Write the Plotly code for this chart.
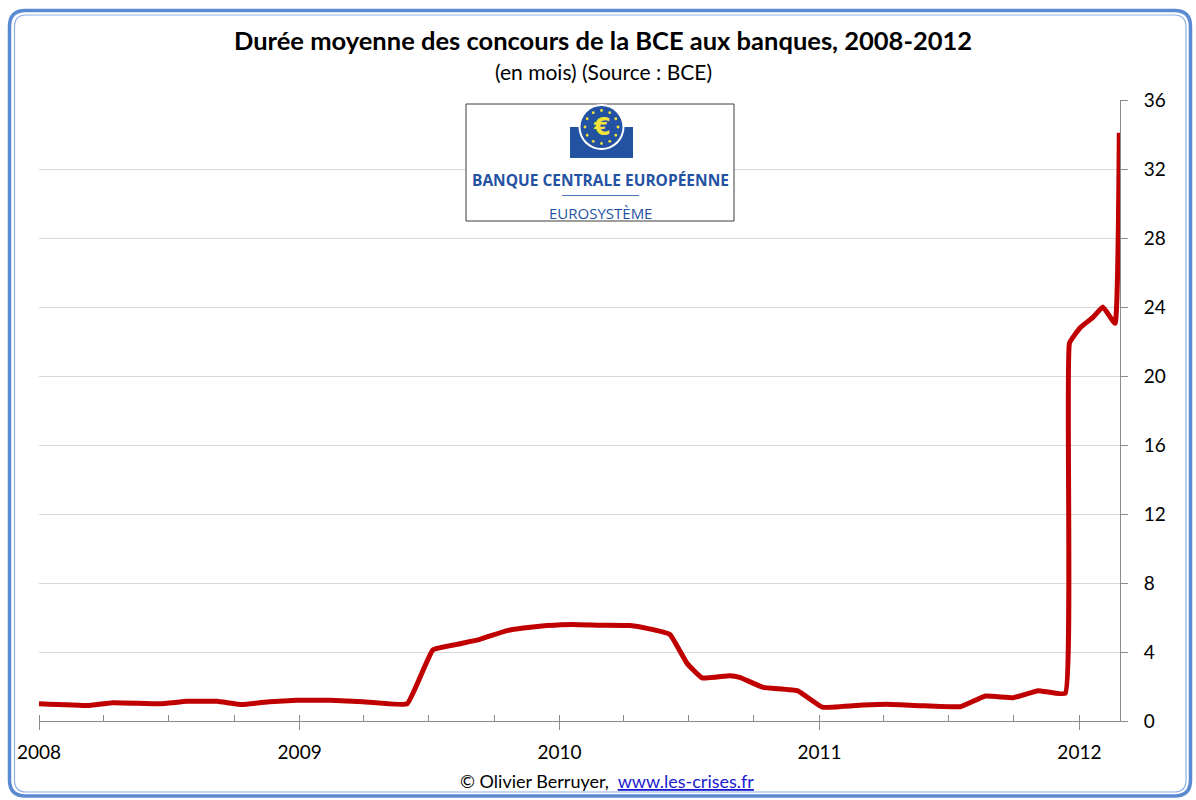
import math
import plotly.graph_objects as go

# ---------------- data ----------------
dates = [
    "2008-01-01", "2008-03-12", "2008-04-14", "2008-06-19", "2008-07-27",
    "2008-09-07", "2008-10-12", "2008-11-20", "2008-12-28", "2009-02-13",
    "2009-03-31", "2009-06-01", "2009-07-07", "2009-08-10", "2009-09-11",
    "2009-10-19", "2009-11-11", "2009-12-14", "2010-01-20", "2010-02-27",
    "2010-04-10", "2010-05-04", "2010-06-05", "2010-06-29", "2010-07-20",
    "2010-08-28", "2010-09-11", "2010-10-14", "2010-12-01", "2011-01-05",
    "2011-03-03", "2011-04-06", "2011-05-22", "2011-07-18", "2011-08-22",
    "2011-09-30", "2011-11-04", "2011-12-12", "2011-12-18", "2012-01-02",
    "2012-01-20", "2012-02-03", "2012-02-20", "2012-02-26",
]
duree_mois = [
    1.00, 0.90, 1.06, 1.00, 1.14,
    1.14, 0.95, 1.12, 1.20, 1.20,
    1.12, 1.00, 4.12, 4.44, 4.73,
    5.24, 5.39, 5.53, 5.60, 5.55,
    5.53, 5.37, 5.02, 3.34, 2.50,
    2.63, 2.53, 1.95, 1.76, 0.80,
    0.93, 0.97, 0.89, 0.83, 1.45,
    1.35, 1.76, 1.60, 21.9, 22.8,
    23.4, 24.0, 23.05, 34.1,
]
y_ticks = [0, 4, 8, 12, 16, 20, 24, 28, 32, 36]

title_text = "<b>Durée moyenne des concours de la BCE aux banques, 2008-2012</b>"
subtitle_text = "(en mois) (Source : BCE)"

# ---------------- layout geometry ----------------
W, H = 1196, 800
L, R, T, B = 39, 76, 100, 79
PW = W - L - R
PH = H - T - B
FONT = "Lato, 'Open Sans', sans-serif"


def px(x, y):
    return (x - L) / PW, (H - B - y) / PH


def fmt(p):
    return f"{p[0]:.5f},{p[1]:.5f}"


def rrect_path(x0, y0, x1, y1, r):
    seq = [
        ("M", [(x0 + r, y0)]),
        ("L", [(x1 - r, y0)]),
        ("Q", [(x1, y0), (x1, y0 + r)]),
        ("L", [(x1, y1 - r)]),
        ("Q", [(x1, y1), (x1 - r, y1)]),
        ("L", [(x0 + r, y1)]),
        ("Q", [(x0, y1), (x0, y1 - r)]),
        ("L", [(x0, y0 + r)]),
        ("Q", [(x0, y0), (x0 + r, y0)]),
    ]
    out = []
    for cmd, pts in seq:
        out.append(cmd + " " + " ".join(fmt(px(*p)) for p in pts))
    return " ".join(out) + " Z"


fig = go.Figure()
fig.add_trace(go.Scatter(
    x=dates, y=duree_mois, mode="lines",
    line=dict(color="#C00000", width=5, shape="spline", smoothing=0.3),
    hoverinfo="x+y", showlegend=False,
))

shapes = []
# outer frame (double blue rounded border)
shapes.append(dict(type="path", xref="paper", yref="paper",
                   path=rrect_path(9.5, 10.5, 1190.5, 796, 16),
                   line=dict(color="#5A8AD2", width=3.5), layer="above"))
shapes.append(dict(type="path", xref="paper", yref="paper",
                   path=rrect_path(14.5, 15, 1186, 792, 12),
                   line=dict(color="#8CB0E4", width=1.2), layer="above"))

# logo box
bx0, by0 = px(466, 104)
bx1, by1 = px(734, 221)
shapes.append(dict(type="rect", xref="paper", yref="paper",
                   x0=bx0, y0=by1, x1=bx1, y1=by0,
                   fillcolor="white", line=dict(color="#3C3C3C", width=1),
                   layer="above"))
# blue base of the emblem
sx0, sy0 = px(570, 127)
sx1, sy1 = px(633, 158)
shapes.append(dict(type="rect", xref="paper", yref="paper",
                   x0=sx0, y0=sy1, x1=sx1, y1=sy0,
                   fillcolor="#2452A2", line=dict(width=0), layer="above"))
# white ring and blue disc
cx, cy = 601.5, 127
for rad, col in [(23, "white"), (21, "#2452A2")]:
    c0 = px(cx - rad, cy - rad)
    c1 = px(cx + rad, cy + rad)
    shapes.append(dict(type="circle", xref="paper", yref="paper",
                       x0=c0[0], y0=c1[1], x1=c1[0], y1=c0[1],
                       fillcolor=col, line=dict(width=0), layer="above"))
# 12 stars
for k in range(12):
    a = 2 * math.pi * k / 12
    sx = cx + 16.5 * math.cos(a)
    sy = cy + 16.5 * math.sin(a)
    p0 = px(sx - 1.4, sy - 1.4)
    p1 = px(sx + 1.4, sy + 1.4)
    shapes.append(dict(type="circle", xref="paper", yref="paper",
                       x0=p0[0], y0=p1[1], x1=p1[0], y1=p0[1],
                       fillcolor="#F2E33A", line=dict(width=0), layer="above"))
# separator line under the bank name
l0 = px(562, 195.5)
l1 = px(639, 195.5)
shapes.append(dict(type="line", xref="paper", yref="paper",
                   x0=l0[0], y0=l0[1], x1=l1[0], y1=l1[1],
                   line=dict(color="#4A74B8", width=1.2), layer="above"))

annotations = []


def add_text(text, x, y, size, color="black", family=FONT):
    p = px(x, y)
    annotations.append(dict(
        text=text, x=p[0], y=p[1], xref="paper", yref="paper",
        xanchor="center", yanchor="middle", showarrow=False,
        font=dict(size=size, color=color, family=family),
    ))


add_text(title_text, 603, 40, 25.5)
add_text(subtitle_text, 603, 71, 21)
add_text("<b>€</b>", 601.5, 127, 24, color="#F2E33A", family="'DejaVu Sans', sans-serif")
add_text("<b>BANQUE CENTRALE EUROPÉENNE</b>", 600, 180, 15.5, color="#2452A2",
         family="'Open Sans', sans-serif")
add_text("EUROSYSTÈME", 600, 212.5, 15, color="#2452A2",
         family="'Open Sans', sans-serif")
add_text("© Olivier Berruyer,  <span style='color:#1A1AD0'><u>www.les-crises.fr</u></span>",
         607, 781, 18)

fig.update_layout(
    width=W, height=H,
    margin=dict(l=L, r=R, t=T, b=B, pad=0),
    paper_bgcolor="white", plot_bgcolor="white",
    font=dict(family=FONT, size=19, color="black"),
    shapes=shapes, annotations=annotations,
    showlegend=False,
    xaxis=dict(
        type="date",
        range=["2008-01-01", "2012-02-27"],
        tick0="2008-01-01", dtick="M12", tickformat="%Y",
        showgrid=False, zeroline=False,
        showline=True, linecolor="#8C8C8C", linewidth=1,
        ticks="outside", ticklen=8, tickcolor="#8C8C8C", tickwidth=1,
        ticklabelstandoff=6,
        minor=dict(ticks="inside", dtick="M3", ticklen=6, tickcolor="#8C8C8C",
                   showgrid=False),
        tickfont=dict(size=19),
    ),
    yaxis=dict(
        side="right",
        range=[0, 36],
        tickvals=y_ticks,
        showgrid=True, gridcolor="#D9D9D9", gridwidth=1,
        zeroline=False,
        showline=True, linecolor="#8C8C8C", linewidth=1,
        ticks="outside", ticklen=7, tickcolor="#8C8C8C",
        ticklabelstandoff=12,
        tickfont=dict(size=19),
    ),
)

fig.write_html(
    "out.html",
    config={"displayModeBar": False},
    post_script="document.body.style.margin='0';document.body.style.overflow='hidden';",
)
